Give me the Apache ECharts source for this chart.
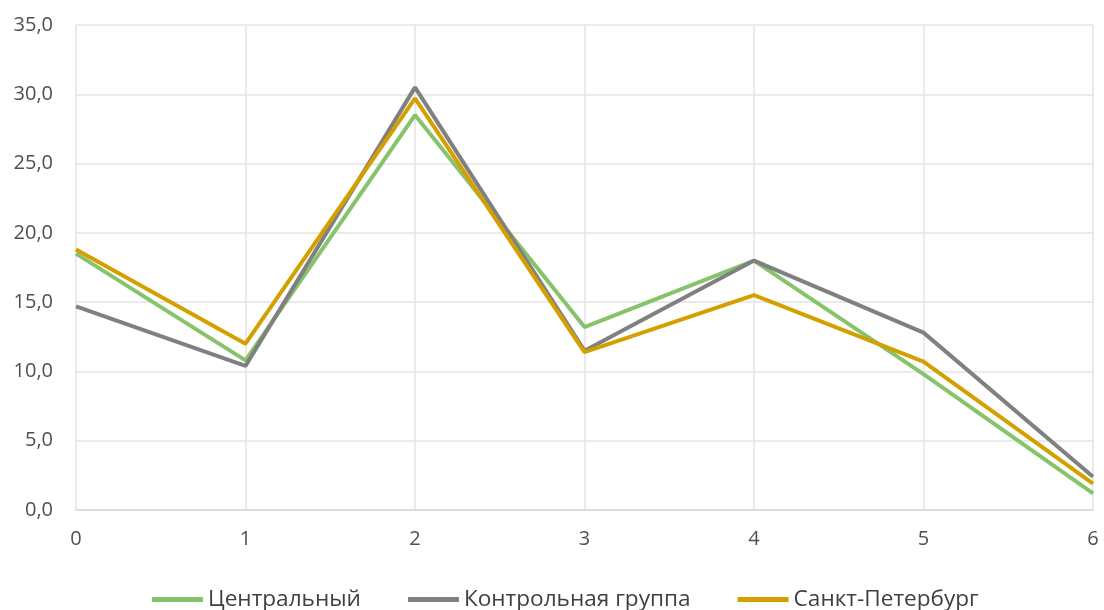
<!DOCTYPE html>
<html>
<head>
<meta charset="utf-8">
<script src="https://cdn.jsdelivr.net/npm/echarts@6/dist/echarts.min.js"></script>
<style>
  html, body { margin: 0; padding: 0; background: #fff; }
  #chart { width: 1104px; height: 610px; }
</style>
</head>
<body>
<div id="chart"></div>
<script>
// categories on the x axis
var categories = ['0', '1', '2', '3', '4', '5', '6'];
// series values
var central = [18.5, 10.8, 28.5, 13.2, 18.0, 9.8, 1.2];
var control = [14.7, 10.4, 30.5, 11.5, 18.0, 12.8, 2.4];
var spb = [18.8, 12.0, 29.7, 11.4, 15.5, 10.7, 1.9];
var seriesNames = ['Центральный', 'Контрольная группа', 'Санкт-Петербург'];
var seriesColors = ['#85c46a', '#808080', '#d4a000'];

var font = '"Open Sans", "Noto Sans", sans-serif';

function makeLine(name, data, color) {
  return {
    name: name,
    type: 'line',
    data: data,
    symbol: 'none',
    color: color,
    lineStyle: { width: 4, color: color }
  };
}

var chart = echarts.init(document.getElementById('chart'));
chart.setOption({
  animation: false,
  backgroundColor: '#ffffff',
  grid: { left: 76, right: 11, top: 25, bottom: 100 },
  legend: {
    top: 583,
    left: 147,
    icon: 'rect',
    itemWidth: 51,
    itemHeight: 5,
    itemGap: 47,
    textStyle: { fontFamily: font, fontSize: 22.6, color: '#404040' },
    data: seriesNames
  },
  xAxis: {
    type: 'category',
    data: categories,
    boundaryGap: false,
    axisLine: { show: true, lineStyle: { color: '#d9d9d9', width: 1.5 } },
    axisTick: { show: false },
    axisLabel: { fontFamily: font, fontSize: 20, color: '#505050', margin: 19 },
    splitLine: { show: true, lineStyle: { color: '#e3e3e3', width: 1.5 } }
  },
  yAxis: {
    type: 'value',
    min: 0,
    max: 35,
    interval: 5,
    axisLine: { show: false },
    axisTick: { show: false },
    axisLabel: {
      fontFamily: font, fontSize: 20, color: '#505050', margin: 23,
      formatter: function (v) { return v.toFixed(1).replace('.', ','); }
    },
    splitLine: { show: true, lineStyle: { color: '#e3e3e3', width: 1.5 } }
  },
  series: [
    makeLine(seriesNames[0], central, seriesColors[0]),
    makeLine(seriesNames[1], control, seriesColors[1]),
    makeLine(seriesNames[2], spb, seriesColors[2])
  ]
});
</script>
</body>
</html>
